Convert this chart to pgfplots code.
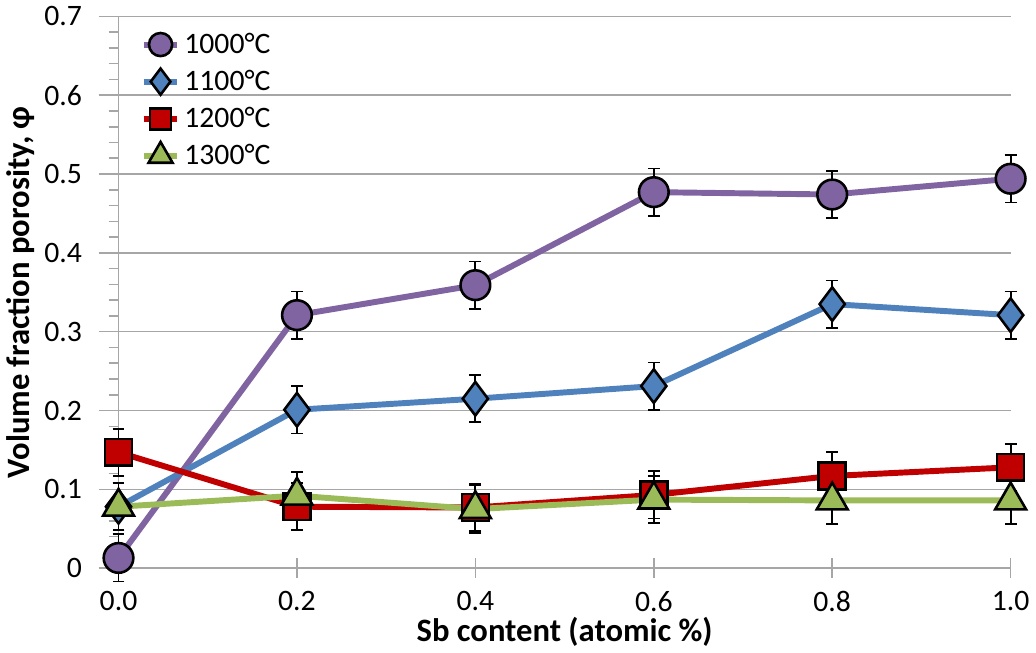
\documentclass[border=0pt]{standalone}
\usepackage{pgfplots}
\pgfplotsset{compat=1.18}
\usepackage{fontspec}
\setmainfont{Carlito}
\definecolor{cpurple}{HTML}{8064A2}
\definecolor{cblue}{HTML}{4F81BD}
\definecolor{cred}{HTML}{C00000}
\definecolor{cgreen}{HTML}{9BBB59}
\definecolor{cgrid}{HTML}{A6A6A6}
\begin{document}
\begin{tikzpicture}
\begin{axis}[
  scale only axis,
  width=451pt, height=279pt,
  xmin=0, xmax=1, ymin=0, ymax=0.7,
  xtick={0,0.2,...,1.0},
  ytick={0,0.1,...,0.7},
  minor y tick num=4,
  axis x line*=bottom,
  axis y line*=left,
  axis line style={cgrid, line width=0.8pt},
  ymajorgrids,
  grid style={cgrid, line width=0.8pt},
  tick style={cgrid, line width=0.8pt},
  major tick length=10pt,
  minor tick length=5pt,
  xtick align=center,
  ytick align=outside,
  minor tick style={cgrid, line width=0.8pt},
  xticklabel={\pgfmathprintnumber[fixed, fixed zerofill, precision=1]{\tick}},
  yticklabel={\pgfmathprintnumber[fixed]{\tick}},
  /pgf/number format/assume math mode=true,
  tick label style={font=\fontsize{15}{17}\selectfont, text=black},
  xticklabel style={yshift=-3pt},
  yticklabel style={xshift=-5pt},
  xlabel={\textbf{Sb content (atomic \%)}},
  ylabel={\textbf{Volume fraction porosity, φ}},
  label style={font=\fontsize{16.5}{18}\selectfont},
  xlabel style={yshift=4pt},
  ylabel style={yshift=-2pt},
  clip=false,
  legend style={at={(0.02,0.985)}, anchor=north west, draw=none, fill=none,
    font=\fontsize{15}{17}\selectfont, row sep=3pt, inner sep=2pt},
  legend cell align=left,
  legend image code/.code={%
    \draw[line width=3pt, every mark/.append style={scale=0.78}, mark repeat=2,mark phase=2] plot coordinates {(0cm,0cm)(0.3cm,0cm)(0.6cm,0cm)};},
  error bars/error bar style={black, line width=0.9pt},
  error bars/error mark options={black, rotate=90, mark size=3pt, line width=0.9pt},
]
\addplot[color=cpurple, line width=3pt, mark=*, mark size=7.5pt,
  mark options={fill=cpurple, draw=black, line width=1.3pt},
  error bars/.cd, y dir=both, y explicit]
  coordinates {(0,0.013) +- (0,0.03) (0.2,0.321) +- (0,0.03) (0.4,0.359) +- (0,0.03)
               (0.6,0.477) +- (0,0.03) (0.8,0.474) +- (0,0.03) (1.0,0.494) +- (0,0.03)};
\addlegendentry{1000°C}
\addplot[color=cblue, line width=3pt, mark=diamond*, mark size=8.5pt,
  mark options={fill=cblue, draw=black, line width=1.3pt},
  error bars/.cd, y dir=both, y explicit]
  coordinates {(0,0.078) +- (0,0.03) (0.2,0.201) +- (0,0.03) (0.4,0.215) +- (0,0.03)
               (0.6,0.231) +- (0,0.03) (0.8,0.335) +- (0,0.03) (1.0,0.321) +- (0,0.03)};
\addlegendentry{1100°C}
\addplot[color=cred, line width=3pt, mark=square*, mark size=6.8pt,
  mark options={fill=cred, draw=black, line width=1.3pt},
  error bars/.cd, y dir=both, y explicit]
  coordinates {(0,0.147) +- (0,0.03) (0.2,0.078) +- (0,0.03) (0.4,0.077) +- (0,0.03)
               (0.6,0.093) +- (0,0.03) (0.8,0.117) +- (0,0.03) (1.0,0.128) +- (0,0.03)};
\addlegendentry{1200°C}
\addplot[color=cgreen, line width=3pt, mark=triangle*, mark size=9pt,
  mark options={fill=cgreen, draw=black, line width=1.3pt},
  error bars/.cd, y dir=both, y explicit]
  coordinates {(0,0.078) +- (0,0.03) (0.2,0.092) +- (0,0.03) (0.4,0.075) +- (0,0.03)
               (0.6,0.087) +- (0,0.03) (0.8,0.086) +- (0,0.03) (1.0,0.086) +- (0,0.03)};
\addlegendentry{1300°C}
\end{axis}
\end{tikzpicture}
\end{document}
